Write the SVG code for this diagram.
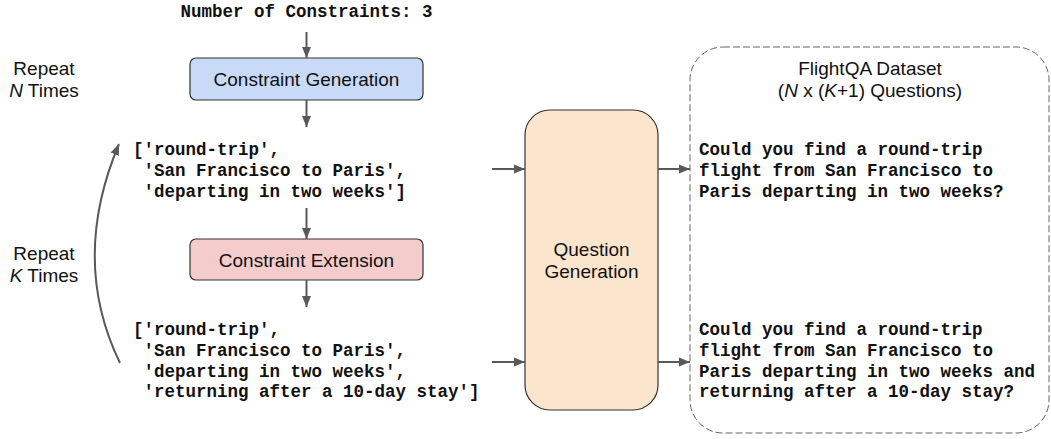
<svg xmlns="http://www.w3.org/2000/svg" width="1051" height="439" viewBox="0 0 1051 439">
<defs>
<marker id="ah" markerUnits="userSpaceOnUse" markerWidth="12" markerHeight="12" viewBox="0 0 12 12" refX="11" refY="6" orient="auto">
<path d="M0,1.5 L11,6 L0,10.5 Z" fill="#595959"/>
</marker>
<style>
.mono{font-family:"Liberation Mono","Courier New",monospace;font-weight:bold;font-size:17.5px;fill:#111}
.sans{font-family:"Liberation Sans",Arial,sans-serif;font-size:19px;fill:#111}
.box{stroke:#333;stroke-width:1.2}
.conn{fill:none;stroke:#595959;stroke-width:2;marker-end:url(#ah)}
</style>
</defs>
<rect width="1051" height="439" fill="#fff"/>

<g id="title">
<text class="mono" x="306.5" y="17" text-anchor="middle">Number of Constraints: 3</text>
</g>

<g id="repeat-n">
<text class="sans" x="44" y="75" text-anchor="middle">Repeat</text>
<text class="sans" x="44" y="97" text-anchor="middle"><tspan font-style="italic">N</tspan> Times</text>
</g>

<g id="repeat-k">
<text class="sans" x="44" y="260" text-anchor="middle">Repeat</text>
<text class="sans" x="44" y="282" text-anchor="middle"><tspan font-style="italic">K</tspan> Times</text>
</g>

<g id="constraint-generation">
<rect class="box" x="190" y="58" width="233" height="42" rx="6" fill="#c9daf8"/>
<text class="sans" x="306.5" y="86" text-anchor="middle">Constraint Generation</text>
</g>

<g id="constraints-1">
<text class="mono" x="133" y="155">['round-trip',</text>
<text class="mono" x="143.5" y="176">'San Francisco to Paris',</text>
<text class="mono" x="143.5" y="197">'departing in two weeks']</text>
</g>

<g id="constraint-extension">
<rect class="box" x="190" y="239" width="233" height="41" rx="6" fill="#f4cccc"/>
<text class="sans" x="306.5" y="266.5" text-anchor="middle">Constraint Extension</text>
</g>

<g id="constraints-2">
<text class="mono" x="133" y="335">['round-trip',</text>
<text class="mono" x="143.5" y="356">'San Francisco to Paris',</text>
<text class="mono" x="143.5" y="376.5">'departing in two weeks',</text>
<text class="mono" x="143.5" y="397">'returning after a 10-day stay']</text>
</g>

<g id="question-generation">
<rect class="box" x="525" y="110" width="133" height="300" rx="25" fill="#fce5cd"/>
<text class="sans" x="591.5" y="256" text-anchor="middle">Question</text>
<text class="sans" x="591.5" y="278" text-anchor="middle">Generation</text>
</g>

<g id="flightqa-dataset">
<rect x="690" y="47" width="359" height="386" rx="33" fill="none" stroke="#666" stroke-width="1" stroke-dasharray="7,3"/>
<text class="sans" x="870" y="75" text-anchor="middle">FlightQA Dataset</text>
<text class="sans" x="870" y="97" text-anchor="middle">(<tspan font-style="italic">N</tspan> x (<tspan font-style="italic">K</tspan>+1) Questions)</text>
<text class="mono" x="699" y="155">Could you find a round-trip</text>
<text class="mono" x="699" y="176">flight from San Francisco to</text>
<text class="mono" x="699" y="197">Paris departing in two weeks?</text>
<text class="mono" x="699" y="335">Could you find a round-trip</text>
<text class="mono" x="699" y="356">flight from San Francisco to</text>
<text class="mono" x="699" y="376.5">Paris departing in two weeks and</text>
<text class="mono" x="699" y="397">returning after a 10-day stay?</text>
</g>

<g id="connectors">
<path class="conn" d="M306.5,32 L306.5,58"/>
<path class="conn" d="M306.5,100 L306.5,127"/>
<path class="conn" d="M306.5,208 L306.5,239"/>
<path class="conn" d="M306.5,280 L306.5,307"/>
<path class="conn" d="M492,169 L525,169"/>
<path class="conn" d="M492,362 L525,362"/>
<path class="conn" d="M658,169 L690,169"/>
<path class="conn" d="M658,362 L690,362"/>
<path class="conn" d="M120,363 Q70,260 119,144"/>
</g>
</svg>
